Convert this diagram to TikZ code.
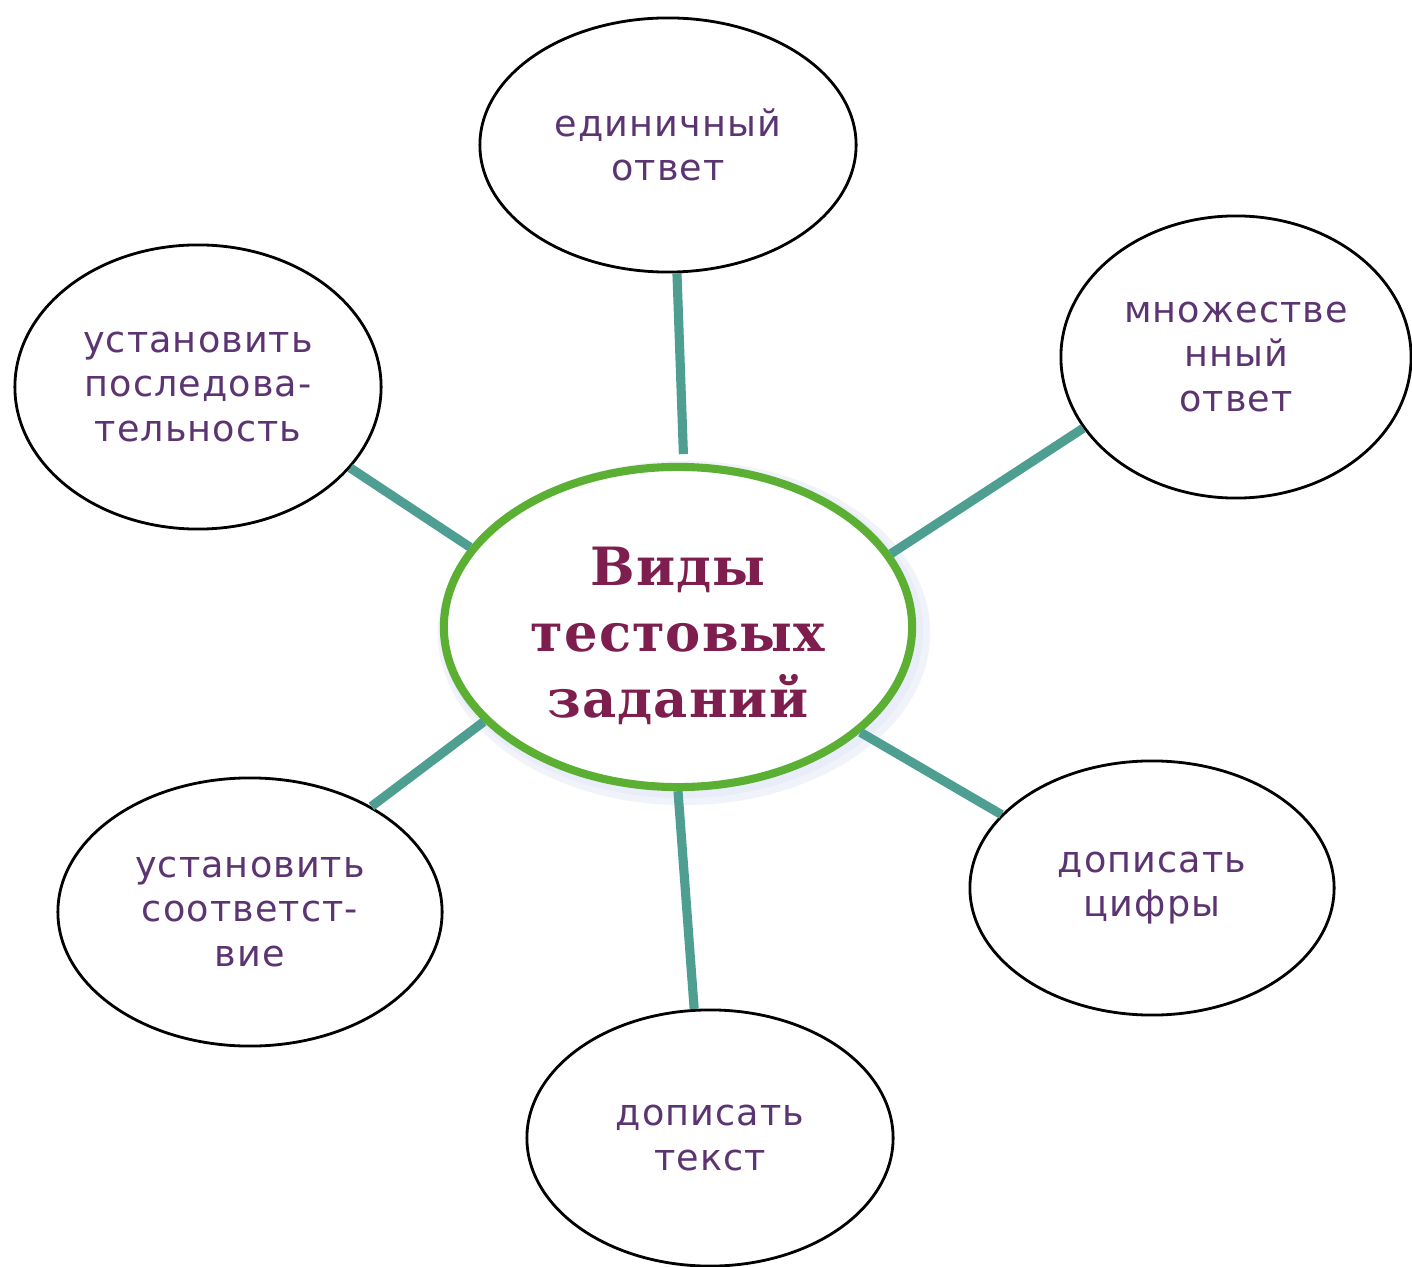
\documentclass[tikz,border=0pt]{standalone}
\usepackage{fontspec}
\usetikzlibrary{shapes.geometric}
\newfontfamily\leaffont[LetterSpace=3]{DejaVu Sans}
\newfontfamily\hubfont[LetterSpace=2]{DejaVu Serif}
\definecolor{connteal}{HTML}{4E9E92}
\definecolor{hubgreen}{HTML}{5BB033}
\definecolor{hubtext}{HTML}{7D1E4E}
\definecolor{leaftext}{HTML}{5C3472}
\definecolor{glow}{HTML}{E4E8F8}
\begin{document}
\begin{tikzpicture}[x=0.01cm,y=-0.01cm,
  leaf/.style={ellipse, draw=black, line width=0.8pt, fill=white, inner sep=0pt,
    align=center, text=leaftext, font=\leaffont\fontsize{10.4}{12.6}\selectfont},
  hub/.style={ellipse, draw=hubgreen, line width=2.3pt, fill=white, inner sep=0pt},
  hubtxt/.style={align=center, inner sep=0pt, text=hubtext,
    font=\hubfont\bfseries\fontsize{15}{18.8}\selectfont},
  link/.style={draw=connteal, line width=2.6pt}]
\fill[white] (0,0) rectangle (1412,1267);
\useasboundingbox (0,0) rectangle (1412,1267);

% faint glow behind the hub
\fill[glow, opacity=0.5] (684,633) ellipse [x radius=2.46cm, y radius=1.72cm];
\fill[glow, opacity=0.6] (682,631) ellipse [x radius=2.41cm, y radius=1.67cm];

\node[hub, minimum width=4.68cm, minimum height=3.20cm] (C) at (678,627) {};
\node[hubtxt] (Ct) at (678,636) {Виды\\тестовых\\заданий};

\node[leaf, minimum width=3.76cm, minimum height=2.54cm] (T) at (668,145) {единичный\\ответ};
\node[leaf, minimum width=3.50cm, minimum height=2.82cm] (TR) at (1236,357) {множестве\\нный\\ответ};
\node[leaf, minimum width=3.66cm, minimum height=2.84cm] (LT) at (198,387) {установить\\последова-\\тельность};
\node[leaf, minimum width=3.64cm, minimum height=2.54cm] (RB) at (1152,888) {дописать\\цифры};
\node[leaf, minimum width=3.84cm, minimum height=2.68cm] (LB) at (250,912) {установить\\соответст-\\вие};
\node[leaf, minimum width=3.66cm, minimum height=2.56cm] (B) at (710,1138) {дописать\\текст};

\draw[link, shorten >=2.5pt] (T.-86.5) -- (C.88.4);
\draw[link] (TR.205.4) -- (C.19.5);
\draw[link] (LT.-28.9) -- (C.159.4);
\draw[link] (RB.154.3) -- (C.-30.5);
\draw[link] (LB.41.9) -- (C.206.5);
\draw[link] (B.97.4) -- (C.-90);
\end{tikzpicture}
\end{document}
